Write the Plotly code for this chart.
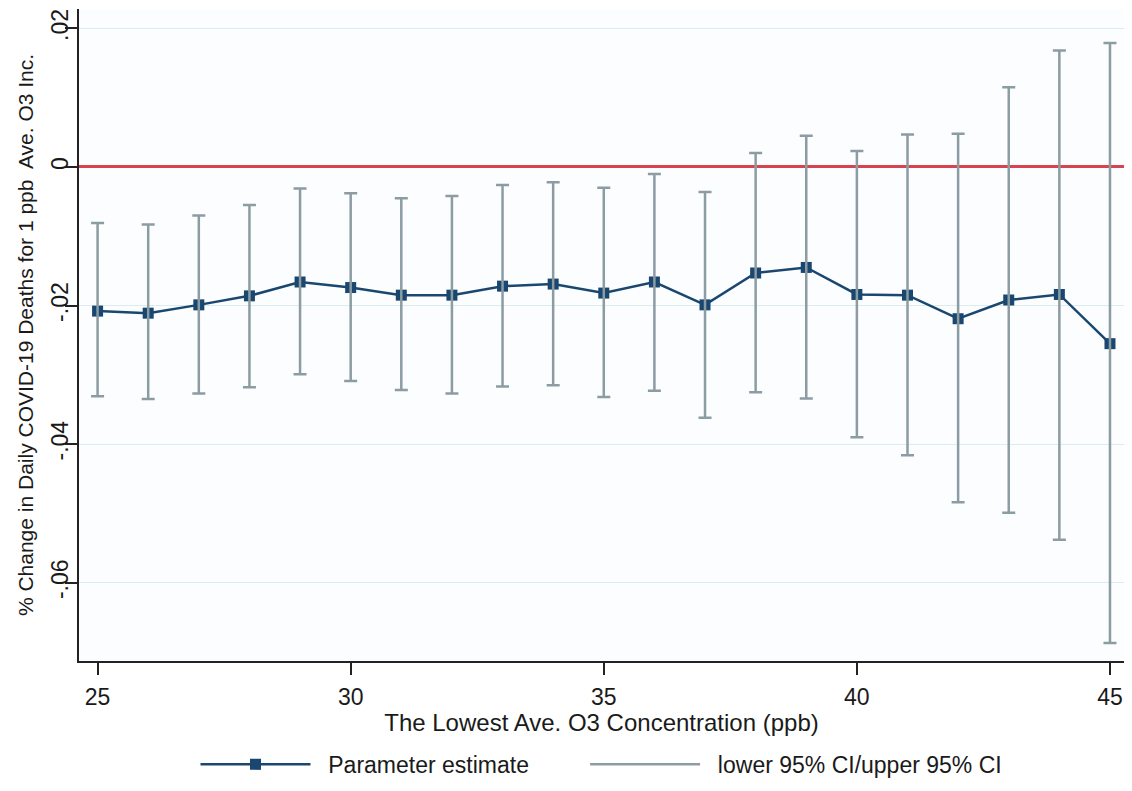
import plotly.graph_objects as go

o3 = list(range(25, 46))
estimate = [-0.0208, -0.0211, -0.0199, -0.0186, -0.0166, -0.0174, -0.0185, -0.0185, -0.0172, -0.0169,
            -0.0182, -0.0166, -0.0199, -0.0153, -0.0145, -0.0184, -0.0185, -0.0219, -0.0192, -0.0184, -0.0255]
upper = [-0.0081, -0.0083, -0.0070, -0.0055, -0.0031, -0.0038, -0.0045, -0.0042, -0.0026, -0.0022,
         -0.0030, -0.0010, -0.0036, 0.0020, 0.0045, 0.0023, 0.0047, 0.0048, 0.0115, 0.0168, 0.0179]
lower = [-0.0331, -0.0335, -0.0327, -0.0318, -0.0299, -0.0309, -0.0322, -0.0327, -0.0317, -0.0315,
         -0.0332, -0.0323, -0.0362, -0.0325, -0.0334, -0.0390, -0.0416, -0.0484, -0.0499, -0.0538, -0.0687]
y_ticks = [0.02, 0, -0.02, -0.04, -0.06]
y_ticklabels = [".02", "0", "-.02", "-.04", "-.06"]
x_ticks = [25, 30, 35, 40, 45]

NAVY = "#1a476f"
GRAY = "#8c9ca3"
RED = "#d9434f"
FONT = "Liberation Sans, Arial, sans-serif"
FS = 23
NB = "\u00a0"

fig = go.Figure()

fig.add_trace(go.Scatter(
    x=o3, y=estimate, mode="lines+markers",
    name=NB * 2 + "Parameter estimate" + NB * 8,
    line=dict(color=NAVY, width=2.5),
    marker=dict(symbol="square", size=11, color=NAVY),
    legendrank=1,
))

err_plus = [u - e for u, e in zip(upper, estimate)]
err_minus = [e - l for e, l in zip(estimate, lower)]
fig.add_trace(go.Scatter(
    x=o3, y=estimate, mode="markers", name="lower 95% CI/upper 95% CI",
    marker=dict(size=1, color="rgba(0,0,0,0)"),
    error_y=dict(type="data", symmetric=False, array=err_plus, arrayminus=err_minus,
                 color=GRAY, thickness=2.5, width=6.5),
    showlegend=False,
))
# legend entry for CI
fig.add_trace(go.Scatter(
    x=[None], y=[None], mode="lines", name=NB * 2 + "lower 95% CI/upper 95% CI",
    line=dict(color=GRAY, width=2.5), legendrank=2,
))

fig.update_layout(
    width=1116, height=775,
    margin=dict(l=71, r=0, t=1, b=122),
    paper_bgcolor="#ffffff",
    plot_bgcolor="#fcfdfe",
    font=dict(family=FONT, size=FS, color="#1a1a1a"),
    showlegend=True,
    legend=dict(orientation="h", x=0.5, xanchor="center", xref="paper",
                yref="container", y=0.024, yanchor="middle",
                font=dict(size=FS), itemwidth=110, bgcolor="rgba(0,0,0,0)",
                traceorder="normal", itemsizing="trace"),
    xaxis=dict(
        range=[24.633, 45.277], tickvals=x_ticks, ticks="outside", ticklen=12, tickwidth=1.5,
        tickcolor="#222", showline=True, linecolor="#222", linewidth=1.8,
        showgrid=False, zeroline=False, mirror=False, automargin=False,
        title=dict(text="The Lowest Ave. O3 Concentration (ppb)", font=dict(size=24), standoff=0),
        tickfont=dict(size=FS), ticklabelstandoff=2,
    ),
    yaxis=dict(
        range=[-0.0713, 0.0228], tickvals=y_ticks, ticktext=y_ticklabels, tickangle=-90,
        ticks="outside", ticklen=12, tickwidth=1.5, tickcolor="#222",
        showline=True, linecolor="#222", linewidth=1.8, automargin=False,
        showgrid=True, gridcolor="#dcecee", gridwidth=1,
        zeroline=True, zerolinecolor=RED, zerolinewidth=3,
        title=dict(text="% Change in Daily COVID-19 Deaths for 1 ppb\u00a0 Ave. O3 Inc.",
                   font=dict(size=21), standoff=8),
        tickfont=dict(size=FS), ticklabelstandoff=-12,
    ),
)

fig.write_html("out.html")
